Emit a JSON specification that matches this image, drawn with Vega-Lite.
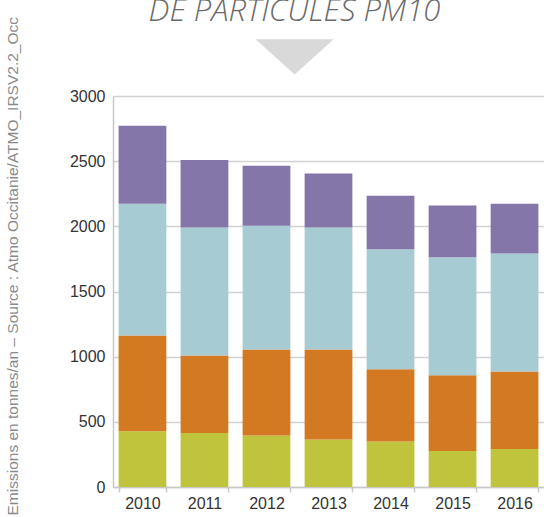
{
  "$schema": "https://vega.github.io/schema/vega-lite/v6.json",
  "width": 431,
  "height": 391,
  "autosize": {"type": "none"},
  "padding": {"left": 113, "top": 96, "right": 0, "bottom": 30},
  "background": "white",
  "title": {
    "text": "DE PARTICULES PM10",
    "font": "Open Sans",
    "fontStyle": "italic",
    "fontWeight": 300,
    "fontSize": 31,
    "color": "#6a6a6a",
    "anchor": "middle",
    "frame": "group",
    "baseline": "alphabetic",
    "dx": -34,
    "offset": 0,
    "dy": 36
  },
  "config": {
    "view": {"stroke": null},
    "axis": {"labelFont": "Liberation Sans", "labelFontSize": 16, "labelColor": "#333333"}
  },
  "data": {
    "values": [
      {"year": "2010", "sector": "Agriculture", "value": 427},
      {"year": "2010", "sector": "Industrie", "value": 735},
      {"year": "2010", "sector": "Résidentiel-tertiaire", "value": 1012},
      {"year": "2010", "sector": "Transport", "value": 598},
      {"year": "2011", "sector": "Agriculture", "value": 414},
      {"year": "2011", "sector": "Industrie", "value": 595},
      {"year": "2011", "sector": "Résidentiel-tertiaire", "value": 983},
      {"year": "2011", "sector": "Transport", "value": 517},
      {"year": "2012", "sector": "Agriculture", "value": 396},
      {"year": "2012", "sector": "Industrie", "value": 659},
      {"year": "2012", "sector": "Résidentiel-tertiaire", "value": 950},
      {"year": "2012", "sector": "Transport", "value": 460},
      {"year": "2013", "sector": "Agriculture", "value": 365},
      {"year": "2013", "sector": "Industrie", "value": 690},
      {"year": "2013", "sector": "Résidentiel-tertiaire", "value": 937},
      {"year": "2013", "sector": "Transport", "value": 414},
      {"year": "2014", "sector": "Agriculture", "value": 350},
      {"year": "2014", "sector": "Industrie", "value": 554},
      {"year": "2014", "sector": "Résidentiel-tertiaire", "value": 920},
      {"year": "2014", "sector": "Transport", "value": 411},
      {"year": "2015", "sector": "Agriculture", "value": 276},
      {"year": "2015", "sector": "Industrie", "value": 582},
      {"year": "2015", "sector": "Résidentiel-tertiaire", "value": 905},
      {"year": "2015", "sector": "Transport", "value": 396},
      {"year": "2016", "sector": "Agriculture", "value": 291},
      {"year": "2016", "sector": "Industrie", "value": 596},
      {"year": "2016", "sector": "Résidentiel-tertiaire", "value": 904},
      {"year": "2016", "sector": "Transport", "value": 383}
    ]
  },
  "layer": [
    {
      "mark": {"type": "bar"},
      "encoding": {
        "x": {
          "field": "year",
          "type": "nominal",
          "scale": {"paddingInner": 0.23, "paddingOuter": 0.09},
          "axis": {
            "title": null,
            "labelAngle": 0,
            "labelPadding": 3,
            "tickBand": "extent",
            "tickSize": 5,
            "tickWidth": 1.5,
            "tickColor": "#c8c8c8",
            "domainColor": "#c8c8c8",
            "domainWidth": 1.5,
            "grid": false
          }
        },
        "y": {
          "field": "value",
          "type": "quantitative",
          "stack": "zero",
          "scale": {"domain": [0, 3000], "nice": false},
          "axis": {
            "values": [0, 500, 1000, 1500, 2000, 2500, 3000],
            "format": "d",
            "title": "Emissions en tonnes/an – Source : Atmo Occitanie/ATMO_IRSV2.2_Occ",
            "titleFont": "Liberation Sans",
            "titleFontSize": 15.5,
            "titleFontWeight": 400,
            "titleColor": "#8a8a8a",
            "titleAngle": 270,
            "titleAnchor": "start",
            "titleBaseline": "middle",
            "titleAlign": "left",
            "titleX": -101,
            "titleY": 419,
            "grid": true,
            "gridColor": "#d2d2d2",
            "gridWidth": 1.5,
            "ticks": false,
            "labelPadding": 8,
            "domainColor": "#c8c8c8",
            "domainWidth": 1.5
          }
        },
        "color": {
          "field": "sector",
          "type": "nominal",
          "scale": {
            "domain": ["Agriculture", "Industrie", "Résidentiel-tertiaire", "Transport"],
            "range": ["#bfc43c", "#d27922", "#a7cbd3", "#8576a9"]
          },
          "legend": null
        },
        "order": {"field": "sector", "sort": "ascending"}
      }
    },
    {
      "data": {"values": [{}]},
      "mark": {
        "type": "point",
        "shape": "M-1,-0.45L1,-0.45L0,0.45Z",
        "filled": true,
        "opacity": 1,
        "color": "#d9d9d9",
        "size": 6084
      },
      "encoding": {
        "x": {"datum": "2012", "bandPosition": 1.09},
        "y": {"datum": 3300}
      }
    }
  ]
}
